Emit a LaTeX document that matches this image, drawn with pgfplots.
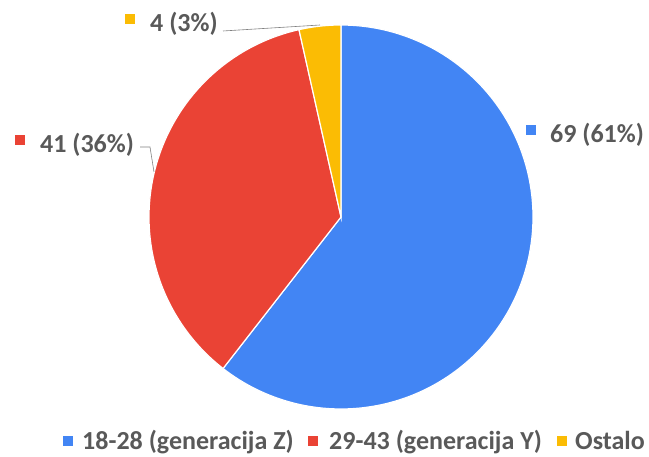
\documentclass[border=0pt]{standalone}
\usepackage{fontspec}
\setmainfont{Carlito}
\usepackage{pgfplots}
\pgfplotsset{compat=1.18}
\definecolor{pieblue}{HTML}{4285F4}
\definecolor{piered}{HTML}{EA4335}
\definecolor{pieyellow}{HTML}{FBBC04}
\definecolor{txtgray}{HTML}{595959}
\begin{document}
\begin{tikzpicture}
% data
\def\vA{69}\def\vB{41}\def\vC{4}
\pgfmathsetmacro{\tot}{\vA+\vB+\vC}
\pgfmathsetmacro{\aA}{90-\vA/\tot*360}
\pgfmathsetmacro{\aB}{\aA-\vB/\tot*360}
\pgfmathsetmacro{\aC}{\aB-\vC/\tot*360}
\begin{axis}[
  scale only axis, width=649pt, height=457pt,
  xmin=0, xmax=649, ymin=0, ymax=457,
  hide axis, clip=false,
]
\addplot[fill=pieblue, draw=white, line width=1.2pt, domain=\aA:90, samples=150, variable=\t]
  ({341+192*cos(\t)}, {240+192*sin(\t)}) -- (axis cs:341,240) -- cycle;
\addplot[fill=piered, draw=white, line width=1.2pt, domain=\aB:\aA, samples=100, variable=\t]
  ({341+192*cos(\t)}, {240+192*sin(\t)}) -- (axis cs:341,240) -- cycle;
\addplot[fill=pieyellow, draw=white, line width=1.2pt, domain=\aC:\aB, samples=20, variable=\t]
  ({341+192*cos(\t)}, {240+192*sin(\t)}) -- (axis cs:341,240) -- cycle;
% leader lines
\draw[gray, line width=0.6pt] (axis cs:140,310) -- (axis cs:150,310) -- (axis cs:154,285);
\draw[gray, line width=0.6pt] (axis cs:223,426) -- (axis cs:320,432);
% data labels
\node[anchor=base west, inner sep=0pt, text=txtgray, font=\fontsize{26}{30}\selectfont\bfseries] at (axis cs:526,314)
  {\textcolor{pieblue}{\rule[8pt]{10pt}{10pt}}\hspace{14pt}69 (61\%)};
\node[anchor=base west, inner sep=0pt, text=txtgray, font=\fontsize{26}{30}\selectfont\bfseries] at (axis cs:15,304)
  {\textcolor{piered}{\rule[8pt]{10pt}{10pt}}\hspace{15pt}41 (36\%)};
\node[anchor=base west, inner sep=0pt, text=txtgray, font=\fontsize{26}{30}\selectfont\bfseries] at (axis cs:125,425)
  {\textcolor{pieyellow}{\rule[8pt]{10pt}{10pt}}\hspace{15pt}4 (3\%)};
% legend
\node[anchor=base west, inner sep=0pt, text=txtgray, font=\fontsize{26}{30}\selectfont\bfseries] at (axis cs:63,7)
  {\textcolor{pieblue}{\rule[4pt]{10pt}{10pt}}\hspace{9pt}18-28 (generacija Z)};
\node[anchor=base west, inner sep=0pt, text=txtgray, font=\fontsize{26}{30}\selectfont\bfseries] at (axis cs:308,7)
  {\textcolor{piered}{\rule[4pt]{10pt}{10pt}}\hspace{11pt}29-43 (generacija Y)};
\node[anchor=base west, inner sep=0pt, text=txtgray, font=\fontsize{26}{30}\selectfont\bfseries] at (axis cs:557,7)
  {\textcolor{pieyellow}{\rule[4pt]{10pt}{10pt}}\hspace{8pt}Ostalo};
\end{axis}
\pgfresetboundingbox
\useasboundingbox (current axis.south west) rectangle (current axis.north east);
\end{tikzpicture}
\end{document}
